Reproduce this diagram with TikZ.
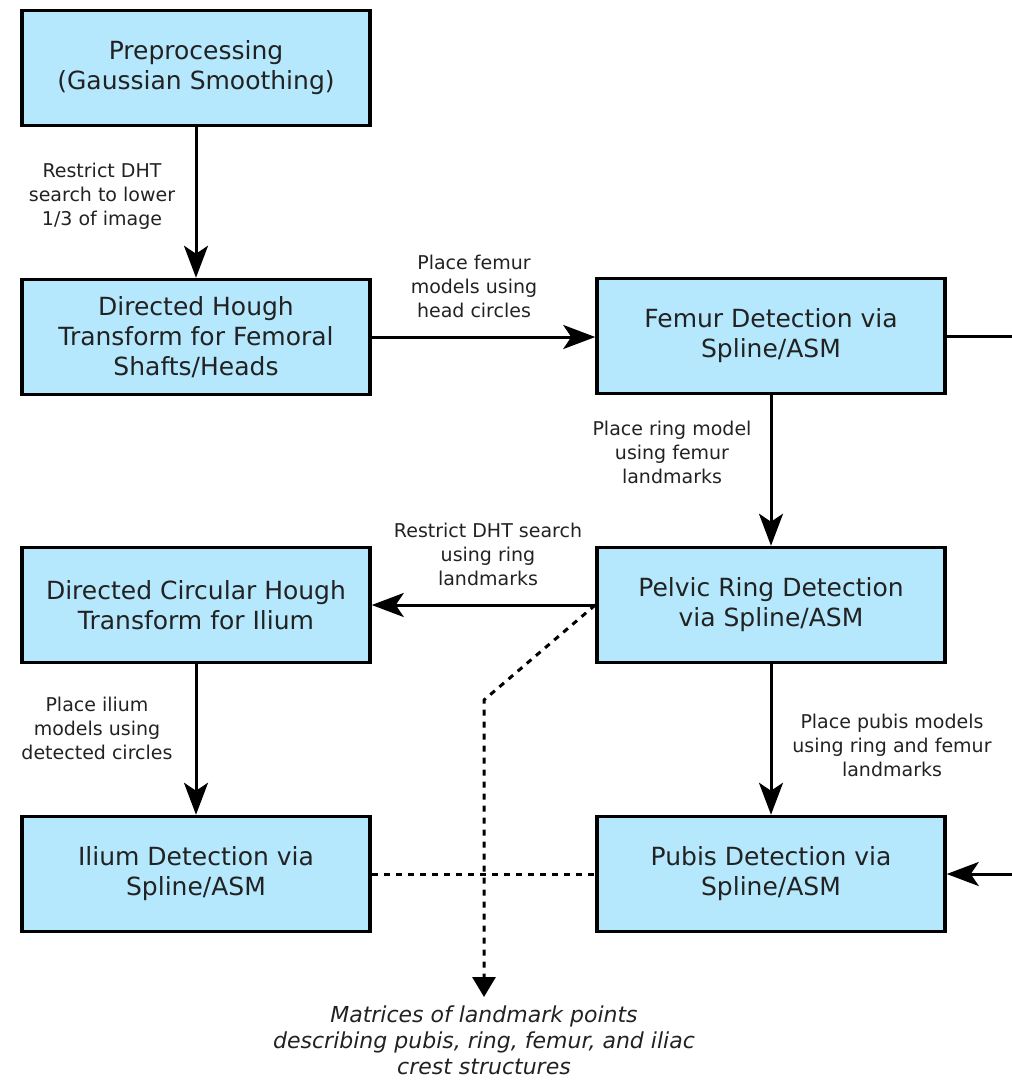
\documentclass[tikz,border=0pt]{standalone}
\usepackage{fontspec}
\setmainfont{DejaVu Sans}
\usetikzlibrary{arrows.meta}
\definecolor{boxfill}{HTML}{B5E8FD}
\definecolor{txt}{HTML}{222222}
\begin{document}
\begin{tikzpicture}[x=1pt,y=-1pt,
  stagebox/.style={draw=black, line width=3.5pt, fill=boxfill, minimum width=348pt, minimum height=115pt,
    inner sep=0pt, align=center, text=txt, font=\fontsize{25}{30}\selectfont},
  flow/.style={line width=3pt, -{Stealth[length=32pt,width=24pt,inset=8pt]}},
  link/.style={line width=3pt},
  dots/.style={line width=3pt, dash pattern=on 6pt off 6pt},
  lbl/.style={align=center, text=txt, font=\fontsize{19}{24}\selectfont, inner sep=0pt}
]
\useasboundingbox (0,0) rectangle (1012,1088);

% processing stages
\node[stagebox] (pre)    at (196,68)  {Preprocessing\\(Gaussian Smoothing)};
\node[stagebox] (dht)    at (196,337) {Directed Hough\\Transform for Femoral\\Shafts/Heads};
\node[stagebox] (femur)  at (771,336) {Femur Detection via\\Spline/ASM};
\node[stagebox] (dcht)   at (196,605) {Directed Circular Hough\\Transform for Ilium};
\node[stagebox] (ring)   at (771,605) {Pelvic Ring Detection\\via Spline/ASM};
\node[stagebox] (ilium)  at (196,874) {Ilium Detection via\\Spline/ASM};
\node[stagebox] (pubis)  at (771,874) {Pubis Detection via\\Spline/ASM};

% connectors
\draw[flow] (pre.south) -- (dht.north);
\draw[flow] (dht.east) -- (dht.east -| femur.west);
\draw[flow] (femur.south) -- (ring.north);
\draw[flow] (ring.west) -- (ring.west -| dcht.east);
\draw[flow] (dcht.south) -- (ilium.north);
\draw[flow] (ring.south) -- (pubis.north);

% links leaving / entering at the right edge
\coordinate (outR) at (1012,336);
\coordinate (inR)  at (1012,874);
\draw[link] (femur.east) -- (outR);
\draw[flow] (inR) -- (pubis.east);

% landmark output
\coordinate (bend) at (484,700);
\node[lbl, anchor=north, font=\fontsize{22}{26}\selectfont\itshape] (out) at (484,1006)
  {Matrices of landmark points\\describing pubis, ring, femur, and iliac\\crest structures};
\draw[dots, -{Triangle[length=20pt,width=23pt]}] (ring.west) -- (bend) -- (484,997);
\draw[dots] (ilium.east) -- (pubis.west);

% connector labels
\node[lbl] (l1) at (102,196) {Restrict DHT\\search to lower\\1/3 of image};
\node[lbl] (l2) at (474,286) {Place femur\\models using\\head circles};
\node[lbl] (l3) at (672,452) {Place ring model\\using femur\\landmarks};
\node[lbl] (l4) at (488,554) {Restrict DHT search\\using ring\\landmarks};
\node[lbl] (l5) at (97,728)  {Place ilium\\models using\\detected circles};
\node[lbl] (l6) at (892,745) {Place pubis models\\using ring and femur\\landmarks};
\end{tikzpicture}
\end{document}
